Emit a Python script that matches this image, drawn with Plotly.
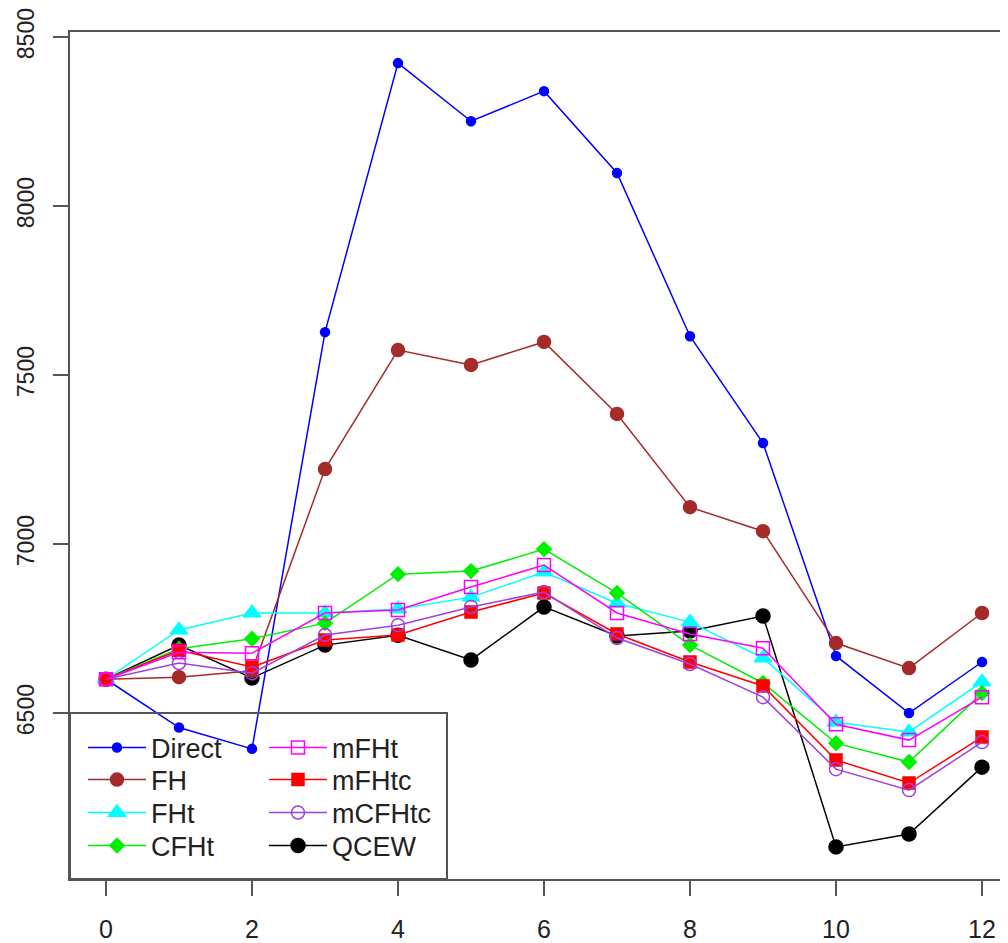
import plotly.graph_objects as go

x_vals = list(range(13))
direct = [6600, 6457, 6394, 7627, 8423, 8251, 8340, 8098, 7615, 7299, 6669, 6500, 6651]
fh = [6600, 6606, 6625, 7222, 7574, 7530, 7598, 7385, 7109, 7038, 6707, 6633, 6796]
fht = [6600, 6746, 6796, 6796, 6808, 6843, 6917, 6825, 6769, 6663, 6473, 6444, 6592]
cfht = [6600, 6690, 6720, 6766, 6911, 6920, 6985, 6855, 6701, 6589, 6411, 6355, 6559]
mfht = [6600, 6680, 6677, 6796, 6805, 6873, 6938, 6796, 6734, 6692, 6467, 6420, 6547]
mfhtc = [6600, 6686, 6636, 6716, 6731, 6799, 6855, 6734, 6651, 6580, 6361, 6293, 6429]
mcfhtc = [6600, 6648, 6618, 6731, 6760, 6814, 6858, 6722, 6645, 6547, 6334, 6272, 6414]
qcew = [6600, 6701, 6604, 6701, 6730, 6657, 6814, 6728, 6743, 6787, 6104, 6142, 6340]

x_ticks = [0, 2, 4, 6, 8, 10, 12]
y_ticks = [6500, 7000, 7500, 8000, 8500]

FONT = "Liberation Sans, Arial, sans-serif"
AX = "#555555"
TXT = "#222222"

# page is shown with an 8px body margin, so the figure is 8px smaller
W, H = 1000, 935
L, T, B, R = 62, 24, 64, 0
PW, PH = W - L - R, H - T - B  # plot area size in px

# name, values, color, symbol, size, legend column, legend row
series = [
    ("QCEW", qcew, "#000000", "circle", 14, 1, 3),
    ("Direct", direct, "#0000FF", "circle", 9, 0, 0),
    ("FH", fh, "#A52A2A", "circle", 13, 0, 1),
    ("FHt", fht, "#00FFFF", "triangle-up", 15, 0, 2),
    ("CFHt", cfht, "#00EE00", "diamond", 11, 0, 3),
    ("mFHtc", mfhtc, "#FF0000", "square", 12, 1, 1),
    ("mCFHtc", mcfhtc, "#A040E0", "circle-open", 13, 1, 2),
    ("mFHt", mfht, "#FF00FF", "square-open", 13, 1, 0),
]

# legend layout (plot-area pixels): column x of legend box, row centre y
col_px = [13, 194]
row_px = [716, 748, 781, 814]  # measured from plot top

fig = go.Figure()
legends = {}
for i, (name, vals, col, sym, size, c, r) in enumerate(series):
    key = "legend" if i == 0 else f"legend{i + 1}"
    fig.add_trace(go.Scatter(
        x=x_vals, y=vals, mode="lines+markers", name=name,
        line=dict(color=col, width=1.5),
        marker=dict(color=col, symbol=sym, size=size,
                    line=dict(color=col, width=1.5)),
        legend=key,
    ))
    legends[key] = dict(
        x=col_px[c] / PW, y=1 - row_px[r] / PH,
        xanchor="left", yanchor="middle",
        font=dict(family=FONT, size=27, color=TXT),
        bgcolor="rgba(0,0,0,0)", borderwidth=0,
        itemsizing="trace", itemwidth=58,
    )

fig.update_layout(
    width=W, height=H,
    paper_bgcolor="white", plot_bgcolor="white",
    margin=dict(l=L, r=R, t=T, b=B, autoexpand=False),
    font=dict(family=FONT, size=25, color=TXT),
    showlegend=True,
    xaxis=dict(
        range=[-0.493, 12.356], tickvals=x_ticks, ticktext=[str(v) for v in x_ticks],
        showgrid=False, zeroline=False, automargin=False,
        showline=True, linecolor=AX, linewidth=2, mirror=True,
        ticks="outside", ticklen=15, tickwidth=2, tickcolor=AX,
        ticklabelstandoff=12, ticklabeloverflow="allow",
        tickfont=dict(family=FONT, size=25, color=TXT),
    ),
    yaxis=dict(
        range=[6009, 8515], tickvals=y_ticks, ticktext=[str(v) for v in y_ticks],
        showgrid=False, zeroline=False, automargin=False,
        showline=True, linecolor=AX, linewidth=2,
        ticks="outside", ticklen=15, tickwidth=2, tickcolor=AX,
        tickangle=-90, ticklabelstandoff=10, ticklabeloverflow="allow",
        tickfont=dict(family=FONT, size=23, color=TXT),
    ),
    shapes=[dict(
        type="rect", xref="paper", yref="paper",
        x0=0, x1=(447 - 70) / PW, y0=0, y1=(879 - 713) / PH,
        line=dict(color=AX, width=2), layer="above",
    )],
    **legends,
)

fig.write_html("out.html")
